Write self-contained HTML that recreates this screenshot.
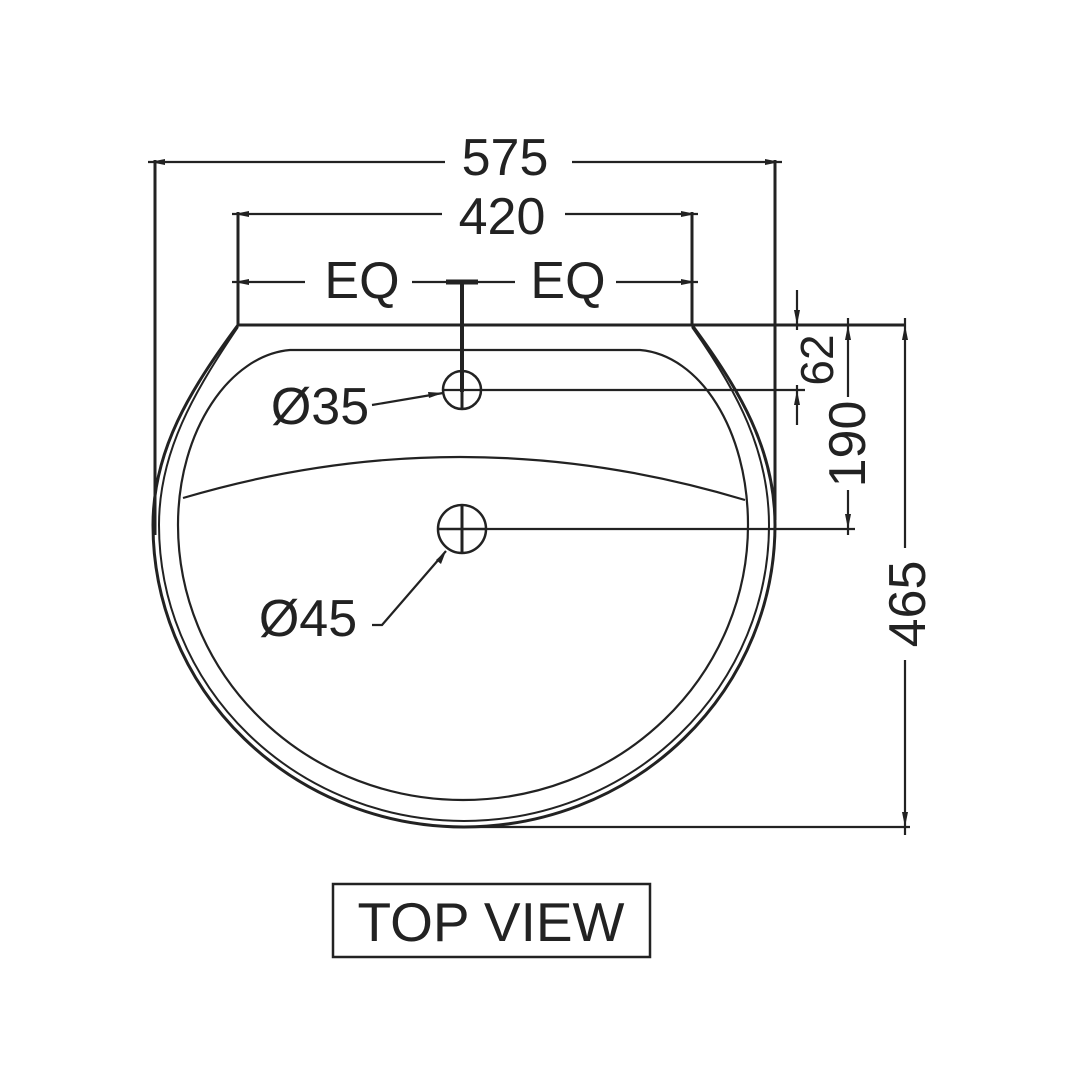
<!DOCTYPE html>
<html><head><meta charset="utf-8"><style>html,body{margin:0;padding:0;background:#fff}svg{display:block}</style></head>
<body>
<svg width="1080" height="1080" viewBox="0 0 1080 1080" xmlns="http://www.w3.org/2000/svg">
<g fill="none" stroke="#222" stroke-width="2.2" stroke-linecap="butt">
<line x1="148" y1="162" x2="445" y2="162"/>
<line x1="572" y1="162" x2="782" y2="162"/>
<line x1="155" y1="160" x2="155" y2="535" stroke-width="3"/>
<line x1="775" y1="160" x2="775" y2="520" stroke-width="3"/>
<line x1="232" y1="214" x2="442" y2="214"/>
<line x1="565" y1="214" x2="698" y2="214"/>
<line x1="238" y1="212" x2="238" y2="325" stroke-width="3"/>
<line x1="692" y1="212" x2="692" y2="325" stroke-width="3"/>
<line x1="232" y1="282" x2="305" y2="282"/>
<line x1="412" y1="282" x2="515" y2="282"/>
<line x1="616" y1="282" x2="698" y2="282"/>
<line x1="446" y1="282" x2="478" y2="282" stroke-width="5"/>
<line x1="462" y1="282" x2="462" y2="392" stroke-width="4"/>
<line x1="238" y1="325" x2="905" y2="325" stroke-width="3"/>
<path d="M238,325 C190,390 153,450 153,525 A309 300 0 0 0 775 525 C775,450 740,390 692,325" stroke-width="3"/>
<path d="M238,327 C194,392 159,452 159,525 A303 294 0 0 0 769 525 C769,452 738,392 692,327" stroke-width="2"/>
<path d="M290,350 L640,350 C700,355 748,430 748,525 A285 275 0 0 1 178 525 C178,430 230,355 290,350 Z" stroke-width="2.2"/>
<path d="M183,498 Q463,415 745,500" stroke-width="2.2"/>
<circle cx="462" cy="390" r="19" stroke-width="2.5"/>
<line x1="443" y1="390" x2="481" y2="390"/>
<line x1="462" y1="371" x2="462" y2="409" stroke-width="3"/>
<circle cx="462" cy="529" r="24" stroke-width="2.5"/>
<line x1="438" y1="529" x2="486" y2="529" stroke-width="2.5"/>
<line x1="462" y1="505" x2="462" y2="553" stroke-width="3"/>
<line x1="481" y1="390" x2="805" y2="390"/>
<line x1="486" y1="529" x2="855" y2="529"/>
<line x1="462" y1="827" x2="910" y2="827"/>
<polyline points="372,405 443,393"/>
<polyline points="372,625 382,625 446,551"/>
<line x1="797" y1="290" x2="797" y2="330"/>
<line x1="797" y1="385" x2="797" y2="425"/>
<line x1="848" y1="318" x2="848" y2="397"/>
<line x1="848" y1="490" x2="848" y2="535"/>
<line x1="905" y1="318" x2="905" y2="548"/>
<line x1="905" y1="660" x2="905" y2="835"/>
<rect x="333" y="884" width="317" height="73" stroke-width="2.5"/>
</g>
<g fill="#222">
<polygon points="150,162 165,159 165,165"/>
<polygon points="780,162 765,159 765,165"/>
<polygon points="234,214 249,211 249,217"/>
<polygon points="696,214 681,211 681,217"/>
<polygon points="234,282 249,279 249,285"/>
<polygon points="696,282 681,279 681,285"/>
<polygon points="443,393 428,392 429,398"/>
<polygon points="446,551 436,560 441,564"/>
<polygon points="797,325 794,310 800,310"/>
<polygon points="797,390 794,405 800,405"/>
<polygon points="848,325 845,340 851,340"/>
<polygon points="848,529 845,514 851,514"/>
<polygon points="905,325 902,340 908,340"/>
<polygon points="905,827 902,812 908,812"/>
</g>
<g font-family="Liberation Sans, sans-serif" fill="#222" font-size="52">
<text x="505" y="175" text-anchor="middle">575</text>
<text x="502" y="234" text-anchor="middle">420</text>
<text x="362" y="298" text-anchor="middle">EQ</text>
<text x="568" y="298" text-anchor="middle">EQ</text>
<text x="320" y="424" text-anchor="middle">Ø35</text>
<text x="308" y="636" text-anchor="middle">Ø45</text>
<text transform="translate(833,360) rotate(-90)" text-anchor="middle" font-size="46">62</text>
<text transform="translate(865,444) rotate(-90)" text-anchor="middle">190</text>
<text transform="translate(925,604) rotate(-90)" text-anchor="middle">465</text>
<text x="491" y="941" text-anchor="middle" font-size="55">TOP VIEW</text>
</g>
</svg>
</body></html>
